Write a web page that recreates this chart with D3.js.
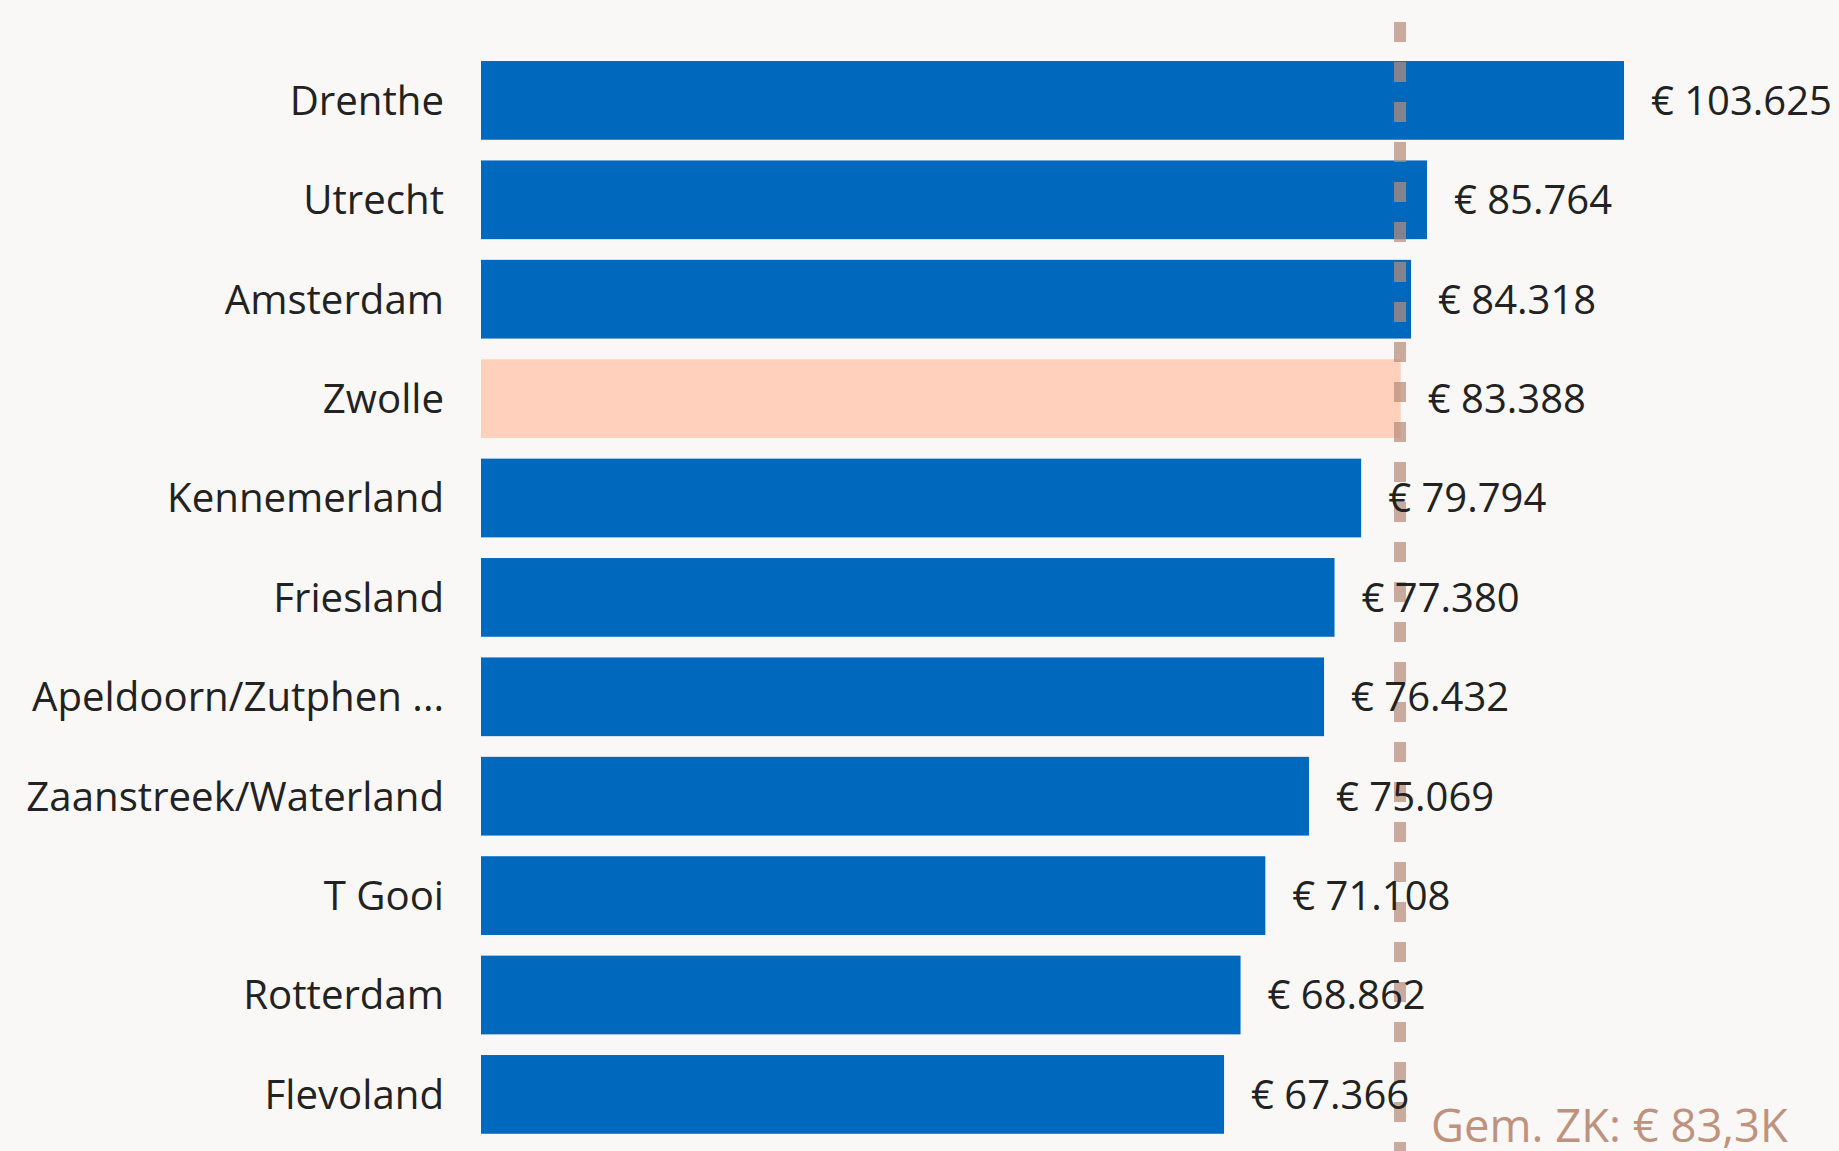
<!DOCTYPE html>
<html>
<head>
<meta charset="utf-8">
<script src="https://cdn.jsdelivr.net/npm/d3@7"></script>
<style>
  html, body { margin: 0; padding: 0; background: #F9F8F6; }
  svg { display: block; }
</style>
</head>
<body>
<svg id="chart" width="1839" height="1151"></svg>
<script>
const categories = ["Drenthe", "Utrecht", "Amsterdam", "Zwolle", "Kennemerland", "Friesland",
  "Apeldoorn/Zutphen ...", "Zaanstreek/Waterland", "T Gooi", "Rotterdam", "Flevoland"];
const values = [103625, 85764, 84318, 83388, 79794, 77380, 76432, 75069, 71108, 68862, 67366];
const valueLabels = ["€ 103.625", "€ 85.764", "€ 84.318", "€ 83.388", "€ 79.794", "€ 77.380",
  "€ 76.432", "€ 75.069", "€ 71.108", "€ 68.862", "€ 67.366"];
const highlighted = ["Zwolle"];
const averageValue = 83318;
const averageLabel = "Gem. ZK: € 83,3K";

const W = 1839, H = 1151;
const svg = d3.select("#chart");
svg.append("rect").attr("width", W).attr("height", H).attr("fill", "#F9F8F6");

const x = d3.scaleLinear().domain([0, 110000]).range([481, 481 + 110000 * 0.01103]);
const y = d3.scaleBand().domain(categories).range([50.7, 1144.1]).paddingInner(0.208).paddingOuter(0.104);

const data = categories.map((c, i) => ({ c, v: values[i], label: valueLabels[i] }));
const font = "'Open Sans', 'Noto Sans', sans-serif";

svg.append("g").selectAll("rect").data(data).join("rect")
  .attr("x", x(0))
  .attr("y", d => y(d.c))
  .attr("width", d => x(d.v) - x(0))
  .attr("height", y.bandwidth())
  .attr("fill", d => highlighted.includes(d.c) ? "#FFD0BB" : "#0068BD");

// Average line
svg.append("line")
  .attr("x1", x(averageValue)).attr("x2", x(averageValue))
  .attr("y1", 22).attr("y2", H)
  .attr("stroke", "rgb(181,140,122)")
  .attr("stroke-opacity", 0.72)
  .attr("stroke-width", 12)
  .attr("stroke-dasharray", "20 20");

// Category labels
svg.append("g").selectAll("text").data(data).join("text")
  .attr("x", 444)
  .attr("y", d => y(d.c) + y.bandwidth() / 2)
  .attr("dy", "0.36em")
  .attr("text-anchor", "end")
  .attr("font-family", font)
  .attr("font-size", 40.2)
  .attr("fill", "#222222")
  .text(d => d.c);

// Value labels
svg.append("g").selectAll("text").data(data).join("text")
  .attr("x", d => x(d.v) + 27)
  .attr("y", d => y(d.c) + y.bandwidth() / 2)
  .attr("dy", "0.36em")
  .attr("font-family", font)
  .attr("font-size", 40)
  .attr("fill", "#222222")
  .text(d => d.label);

// Average label
svg.append("text")
  .attr("x", x(averageValue) + 31)
  .attr("y", 1142)
  .attr("font-family", font)
  .attr("font-size", 45.4)
  .attr("fill", "#BF927E")
  .text(averageLabel);
</script>
</body>
</html>
